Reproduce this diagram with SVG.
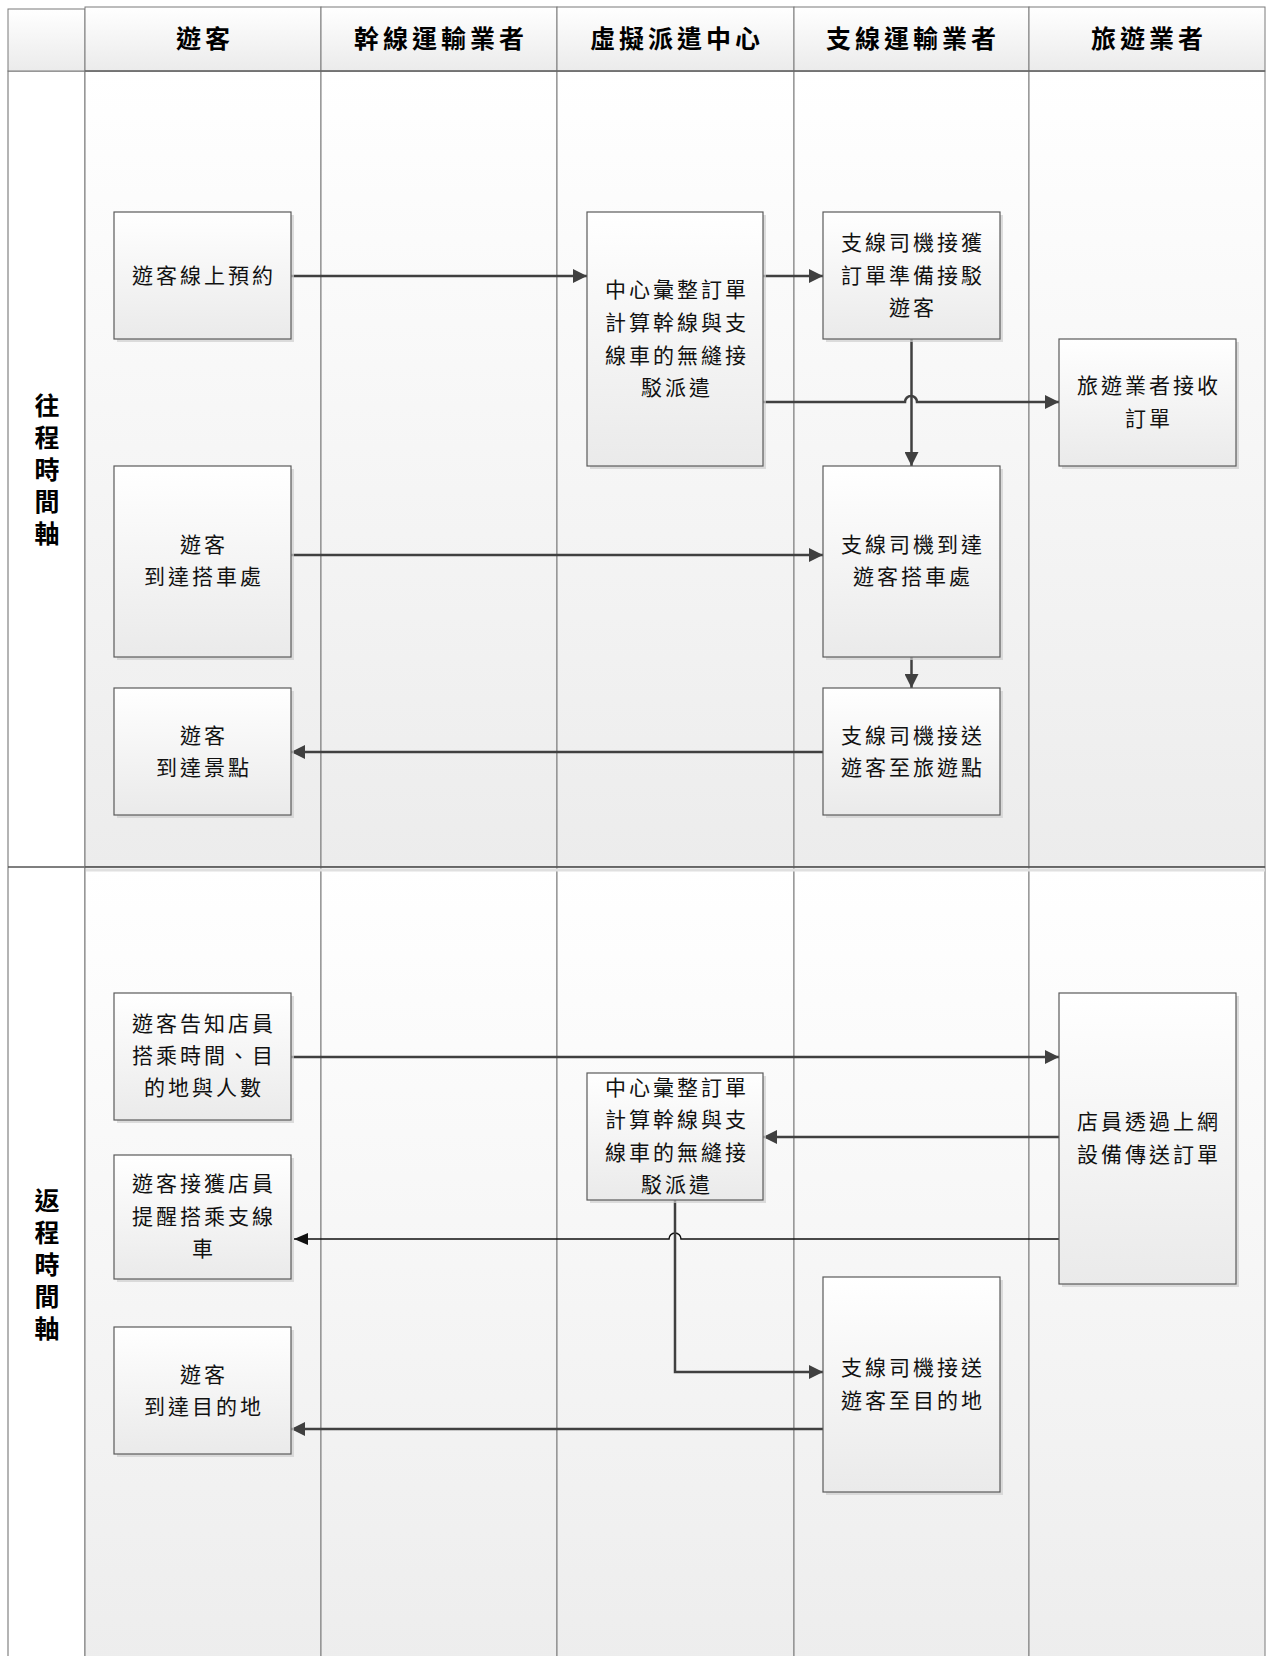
<svg xmlns="http://www.w3.org/2000/svg" width="1269" height="1656" viewBox="0 0 1269 1656">
<defs>
<linearGradient id="laneGrad" x1="0" y1="0" x2="0" y2="1">
<stop offset="0" stop-color="#ffffff"/>
<stop offset="1" stop-color="#ececec"/>
</linearGradient>
<linearGradient id="nodeGrad" x1="0" y1="0" x2="0" y2="1">
<stop offset="0" stop-color="#ffffff"/>
<stop offset="1" stop-color="#eaeaea"/>
</linearGradient>
<linearGradient id="headGrad" x1="0" y1="0" x2="0" y2="1">
<stop offset="0" stop-color="#ffffff"/>
<stop offset="1" stop-color="#ebebeb"/>
</linearGradient>
<marker id="arr" viewBox="0 0 14 14" refX="14" refY="7" markerWidth="14" markerHeight="14" markerUnits="userSpaceOnUse" orient="auto">
<path d="M0,0 L14,7 L0,14 Z" fill="#404040"/>
</marker>
<marker id="arrThin" viewBox="0 0 14 12" refX="14" refY="6" markerWidth="14" markerHeight="12" markerUnits="userSpaceOnUse" orient="auto">
<path d="M0,0 L14,6 L0,12 Z" fill="#111111"/>
</marker>
</defs>
<style>
.lane{fill:url(#laneGrad);stroke:#7a7a7a;stroke-width:1}
.lshadow{fill:none;stroke:#d8d8d8;stroke-width:3}
.head{fill:url(#headGrad);stroke:#7a7a7a;stroke-width:1}
.left{fill:#ffffff;stroke:#6a6a6a;stroke-width:1}
.node{fill:url(#nodeGrad);stroke:#5a5a5a;stroke-width:1.2}
.shadow{fill:#cfcfcf;opacity:0.7}
.ht{font-family:"Liberation Serif","Noto Sans CJK TC",serif;font-size:25px;font-weight:bold;fill:#000;text-anchor:middle;dominant-baseline:central;letter-spacing:4px}
.rt{font-family:"Liberation Serif","Noto Sans CJK TC",serif;font-size:25px;font-weight:bold;fill:#000;text-anchor:middle;dominant-baseline:central}
.nt{font-family:"Liberation Serif","Noto Sans CJK TC",serif;font-size:21px;fill:#111;text-anchor:middle;dominant-baseline:central;letter-spacing:3px}
.c{fill:none;stroke:#404040;stroke-width:2.5;marker-end:url(#arr)}
.cthin{fill:none;stroke:#111;stroke-width:1.5;marker-end:url(#arrThin)}
</style>

<g id="background">
<rect x="8" y="71" width="77" height="1600" class="left"/>
<rect x="8" y="9" width="77" height="62" class="head"/>
<line x1="8" y1="867" x2="85" y2="867" stroke="#555" stroke-width="1.5"/>
</g>

<g id="lanes">
<rect x="85" y="71" width="236" height="796" class="lane"/>
<rect x="321" y="71" width="236" height="796" class="lane"/>
<rect x="557" y="71" width="237" height="796" class="lane"/>
<rect x="794" y="71" width="235" height="796" class="lane"/>
<rect x="1029" y="71" width="236" height="796" class="lane"/>
<rect x="85" y="867" width="236" height="840" class="lane"/>
<rect x="321" y="867" width="236" height="840" class="lane"/>
<rect x="557" y="867" width="237" height="840" class="lane"/>
<rect x="794" y="867" width="235" height="840" class="lane"/>
<rect x="1029" y="867" width="236" height="840" class="lane"/>
<line x1="85" y1="867" x2="1265" y2="867" stroke="#555" stroke-width="1.5"/>
<line x1="86" y1="870" x2="1265" y2="870" stroke="#e0e0e0" stroke-width="3"/>
</g>

<g id="headers">
<rect x="85" y="7" width="236" height="64" class="head"/>
<rect x="321" y="7" width="236" height="64" class="head"/>
<rect x="557" y="7" width="237" height="64" class="head"/>
<rect x="794" y="7" width="235" height="64" class="head"/>
<rect x="1029" y="7" width="236" height="64" class="head"/>
<line x1="85" y1="71" x2="1265" y2="71" stroke="#666" stroke-width="1.5"/>
<text class="ht" x="205" y="39">遊客</text>
<text class="ht" x="441" y="39">幹線運輸業者</text>
<text class="ht" x="677" y="39">虛擬派遣中心</text>
<text class="ht" x="913" y="39">支線運輸業者</text>
<text class="ht" x="1149" y="39">旅遊業者</text>
</g>

<g id="row-labels">
<text class="rt" x="47" y="406">往</text>
<text class="rt" x="47" y="438">程</text>
<text class="rt" x="47" y="470">時</text>
<text class="rt" x="47" y="502">間</text>
<text class="rt" x="47" y="534">軸</text>
<text class="rt" x="47" y="1201">返</text>
<text class="rt" x="47" y="1233">程</text>
<text class="rt" x="47" y="1265">時</text>
<text class="rt" x="47" y="1297">間</text>
<text class="rt" x="47" y="1329">軸</text>
</g>

<g id="connectors">
<path class="c" d="M291,276 H587"/>
<path class="c" d="M763,276 H823"/>
<path class="c" d="M763,402 H905 A6,6 0 0 1 917,402 H1059"/>
<path class="c" d="M911.5,339 V466"/>
<path class="c" d="M291,555 H823"/>
<path class="c" d="M911.5,657 V688"/>
<path class="c" d="M823,752 H291"/>
<path class="c" d="M291,1057 H1059"/>
<path class="c" d="M1059,1137 H763"/>
<path class="cthin" d="M1059,1239 H681 A6,6 0 0 0 669,1239 H294"/>
<path class="c" d="M675,1200 V1372 H823"/>
<path class="c" d="M823,1429 H291"/>
</g>

<g id="n-online-booking">
<rect x="117" y="215" width="177" height="127" class="shadow"/>
<rect x="114" y="212" width="177" height="127" class="node"/>
<text class="nt" x="204" y="276">遊客線上預約</text>
</g>
<g id="n-arrive-pickup">
<rect x="117" y="469" width="177" height="191" class="shadow"/>
<rect x="114" y="466" width="177" height="191" class="node"/>
<text class="nt" x="204" y="545">遊客</text>
<text class="nt" x="204" y="577">到達搭車處</text>
</g>
<g id="n-arrive-spot">
<rect x="117" y="691" width="177" height="127" class="shadow"/>
<rect x="114" y="688" width="177" height="127" class="node"/>
<text class="nt" x="204" y="736">遊客</text>
<text class="nt" x="204" y="768">到達景點</text>
</g>
<g id="n-tell-clerk">
<rect x="117" y="996" width="177" height="127" class="shadow"/>
<rect x="114" y="993" width="177" height="127" class="node"/>
<text class="nt" x="204" y="1024">遊客告知店員</text>
<text class="nt" x="204" y="1056">搭乘時間、目</text>
<text class="nt" x="204" y="1088">的地與人數</text>
</g>
<g id="n-reminded">
<rect x="117" y="1158" width="177" height="124" class="shadow"/>
<rect x="114" y="1155" width="177" height="124" class="node"/>
<text class="nt" x="204" y="1184">遊客接獲店員</text>
<text class="nt" x="204" y="1217">提醒搭乘支線</text>
<text class="nt" x="204" y="1249">車</text>
</g>
<g id="n-arrive-dest">
<rect x="117" y="1330" width="177" height="127" class="shadow"/>
<rect x="114" y="1327" width="177" height="127" class="node"/>
<text class="nt" x="204" y="1375">遊客</text>
<text class="nt" x="204" y="1407">到達目的地</text>
</g>
<g id="c-dispatch-1">
<rect x="590" y="215" width="176" height="254" class="shadow"/>
<rect x="587" y="212" width="176" height="254" class="node"/>
<text class="nt" x="677" y="290">中心彙整訂單</text>
<text class="nt" x="677" y="323">計算幹線與支</text>
<text class="nt" x="677" y="356">線車的無縫接</text>
<text class="nt" x="677" y="388">駁派遣</text>
</g>
<g id="c-dispatch-2">
<rect x="590" y="1076" width="176" height="127" class="shadow"/>
<rect x="587" y="1073" width="176" height="127" class="node"/>
<text class="nt" x="677" y="1088">中心彙整訂單</text>
<text class="nt" x="677" y="1120">計算幹線與支</text>
<text class="nt" x="677" y="1153">線車的無縫接</text>
<text class="nt" x="677" y="1185">駁派遣</text>
</g>
<g id="s-driver-order">
<rect x="826" y="215" width="177" height="127" class="shadow"/>
<rect x="823" y="212" width="177" height="127" class="node"/>
<text class="nt" x="913" y="243">支線司機接獲</text>
<text class="nt" x="913" y="276">訂單準備接駁</text>
<text class="nt" x="913" y="308">遊客</text>
</g>
<g id="s-driver-arrive">
<rect x="826" y="469" width="177" height="191" class="shadow"/>
<rect x="823" y="466" width="177" height="191" class="node"/>
<text class="nt" x="913" y="545">支線司機到達</text>
<text class="nt" x="913" y="577">遊客搭車處</text>
</g>
<g id="s-driver-spot">
<rect x="826" y="691" width="177" height="127" class="shadow"/>
<rect x="823" y="688" width="177" height="127" class="node"/>
<text class="nt" x="913" y="736">支線司機接送</text>
<text class="nt" x="913" y="768">遊客至旅遊點</text>
</g>
<g id="s-driver-dest">
<rect x="826" y="1280" width="177" height="215" class="shadow"/>
<rect x="823" y="1277" width="177" height="215" class="node"/>
<text class="nt" x="913" y="1368">支線司機接送</text>
<text class="nt" x="913" y="1401">遊客至目的地</text>
</g>
<g id="t-receive">
<rect x="1062" y="342" width="177" height="127" class="shadow"/>
<rect x="1059" y="339" width="177" height="127" class="node"/>
<text class="nt" x="1149" y="386">旅遊業者接收</text>
<text class="nt" x="1149" y="419">訂單</text>
</g>
<g id="t-clerk-send">
<rect x="1062" y="996" width="177" height="291" class="shadow"/>
<rect x="1059" y="993" width="177" height="291" class="node"/>
<text class="nt" x="1149" y="1122">店員透過上網</text>
<text class="nt" x="1149" y="1155">設備傳送訂單</text>
</g>
</svg>
